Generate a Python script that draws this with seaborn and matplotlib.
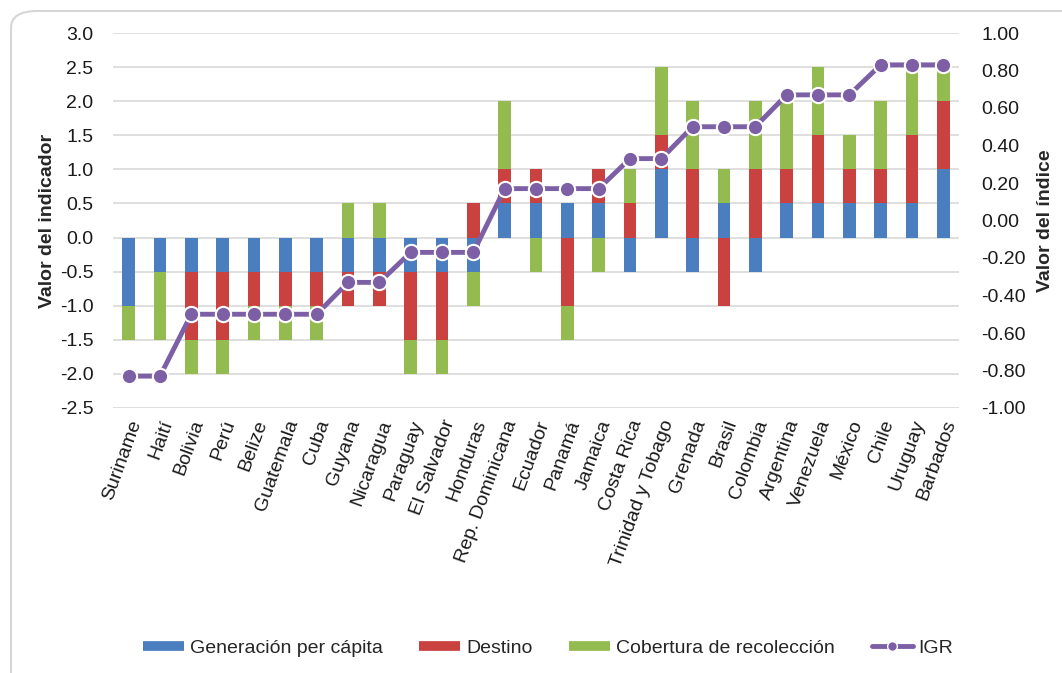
import numpy as np
import pandas as pd
import matplotlib
matplotlib.use("Agg")
import matplotlib.pyplot as plt
from matplotlib.lines import Line2D
from matplotlib.patches import FancyBboxPatch
import seaborn as sns

countries = ["Suriname", "Haití", "Bolivia", "Perú", "Belize", "Guatemala", "Cuba",
             "Guyana", "Nicaragua", "Paraguay", "El Salvador", "Honduras",
             "Rep. Dominicana", "Ecuador", "Panamá", "Jamaica", "Costa Rica",
             "Trinidad y Tobago", "Grenada", "Brasil", "Colombia", "Argentina",
             "Venezuela", "México", "Chile", "Uruguay", "Barbados"]

generacion = [-1.0, -0.5, -0.5, -0.5, -0.5, -0.5, -0.5, -0.5, -0.5, -0.5, -0.5, -0.5,
              0.5, 0.5, 0.5, 0.5, -0.5, 1.0, -0.5, 0.5, -0.5, 0.5, 0.5, 0.5, 0.5, 0.5, 1.0]
destino = [0.0, 0.0, -1.0, -1.0, -0.5, -0.5, -0.5, -0.5, -0.5, -1.0, -1.0, 0.5,
           0.5, 0.5, -1.0, 0.5, 0.5, 0.5, 1.0, -1.0, 1.0, 0.5, 1.0, 0.5, 0.5, 1.0, 1.0]
cobertura = [-0.5, -1.0, -0.5, -0.5, -0.5, -0.5, -0.5, 0.5, 0.5, -0.5, -0.5, -0.5,
             1.0, -0.5, -0.5, -0.5, 0.5, 1.0, 1.0, 0.5, 1.0, 1.0, 1.0, 0.5, 1.0, 1.0, 0.5]
igr = [-0.83, -0.83, -0.50, -0.50, -0.50, -0.50, -0.50, -0.33, -0.33, -0.17, -0.17, -0.17,
       0.17, 0.17, 0.17, 0.17, 0.33, 0.33, 0.50, 0.50, 0.50, 0.67, 0.67, 0.67, 0.83, 0.83, 0.83]

series_names = ["Generación per cápita", "Destino", "Cobertura de recolección"]
series_colors = ["#4a7ebf", "#c9423f", "#93bb4f"]
line_color = "#7d5fa6"

df = pd.DataFrame({"pais": countries, "Generación per cápita": generacion,
                   "Destino": destino, "Cobertura de recolección": cobertura, "IGR": igr})
df["pos"] = np.arange(len(df))

sns.set_theme(style="white")
plt.rcParams["font.family"] = ["Liberation Sans", "DejaVu Sans"]

fig = plt.figure(figsize=(10.62, 6.73), dpi=100)
ax = fig.add_axes([113 / 1062, 1 - 408 / 673, (959 - 113) / 1062, (408 - 33) / 673])

# stacked bars: positive and negative parts accumulate separately
pos_base = np.zeros(len(df))
neg_base = np.zeros(len(df))
for name, color in zip(series_names, series_colors):
    vals = df[name].to_numpy()
    bottoms = np.where(vals >= 0, pos_base, neg_base)
    ax.bar(df["pos"], vals, bottom=bottoms, width=0.4, color=color, linewidth=0, zorder=2)
    pos_base += np.clip(vals, 0, None)
    neg_base += np.clip(vals, None, 0)

left_ticks = np.round(np.arange(-2.5, 3.01, 0.5), 2)
ax.set_xlim(-0.5, len(df) - 0.5)
ax.set_ylim(-2.5, 3.0)
ax.set_yticks(left_ticks)
ax.set_yticklabels([f"{v:.1f}" for v in left_ticks])
ax.yaxis.grid(True, color="#d9d9d9", linewidth=1.2, zorder=0)
ax.set_axisbelow(True)
ax.set_xticks(df["pos"])
ax.set_xticklabels(countries, rotation=70, ha="right", rotation_mode="anchor")
for s in ax.spines.values():
    s.set_visible(False)
ax.tick_params(axis="both", length=0, labelsize=14, colors="#1a1a1a")
ax.tick_params(axis="y", pad=14)
ax.tick_params(axis="x", pad=7)
ax.set_ylabel("Valor del indicador", fontsize=14, fontweight="bold", labelpad=3)
ax.set_xlabel("")

# index line on the secondary axis
ax2 = ax.twinx()
sns.lineplot(data=df, x="pos", y="IGR", ax=ax2, color=line_color, linewidth=3.5,
             marker="o", markersize=11, markeredgecolor="white", markeredgewidth=1.5,
             zorder=5, legend=False)
right_ticks = np.round(np.arange(-1.0, 1.01, 0.2), 2) + 0.0
ax2.set_ylim(-1.0, 1.0)
ax2.set_yticks(right_ticks)
ax2.set_yticklabels([f"{v:.2f}".replace("-0.00", "0.00") for v in right_ticks])
ax2.set_xlim(-0.5, len(df) - 0.5)
for s in ax2.spines.values():
    s.set_visible(False)
ax2.tick_params(axis="y", length=0, labelsize=14, colors="#1a1a1a", pad=16)
ax2.set_ylabel("Valor del índice", fontsize=14, fontweight="bold", labelpad=8)
ax2.set_xlabel("")
ax2.grid(False)

handles = [Line2D([], [], color=c, linewidth=7, solid_capstyle="butt") for c in series_colors]
handles.append(Line2D([], [], color=line_color, linewidth=3.5, marker="o", markersize=7,
                      markeredgecolor="white", markeredgewidth=1))
fig.legend(handles, series_names + ["IGR"], loc="center", ncol=4,
           bbox_to_anchor=(548 / 1062, 1 - 648 / 673), frameon=False, fontsize=14,
           handlelength=2.1, handletextpad=0.3, columnspacing=1.9)

# rounded outer frame
frame = FancyBboxPatch((11 / 1062, -0.1), 1.2, 0.1 + 1 - 11 / 673,
                       boxstyle="round,pad=0,rounding_size=0.025",
                       transform=fig.transFigure, fill=False,
                       edgecolor="#d6d6d6", linewidth=1.5, zorder=0)
fig.patches.append(frame)

fig.savefig("out.png", dpi=100)
